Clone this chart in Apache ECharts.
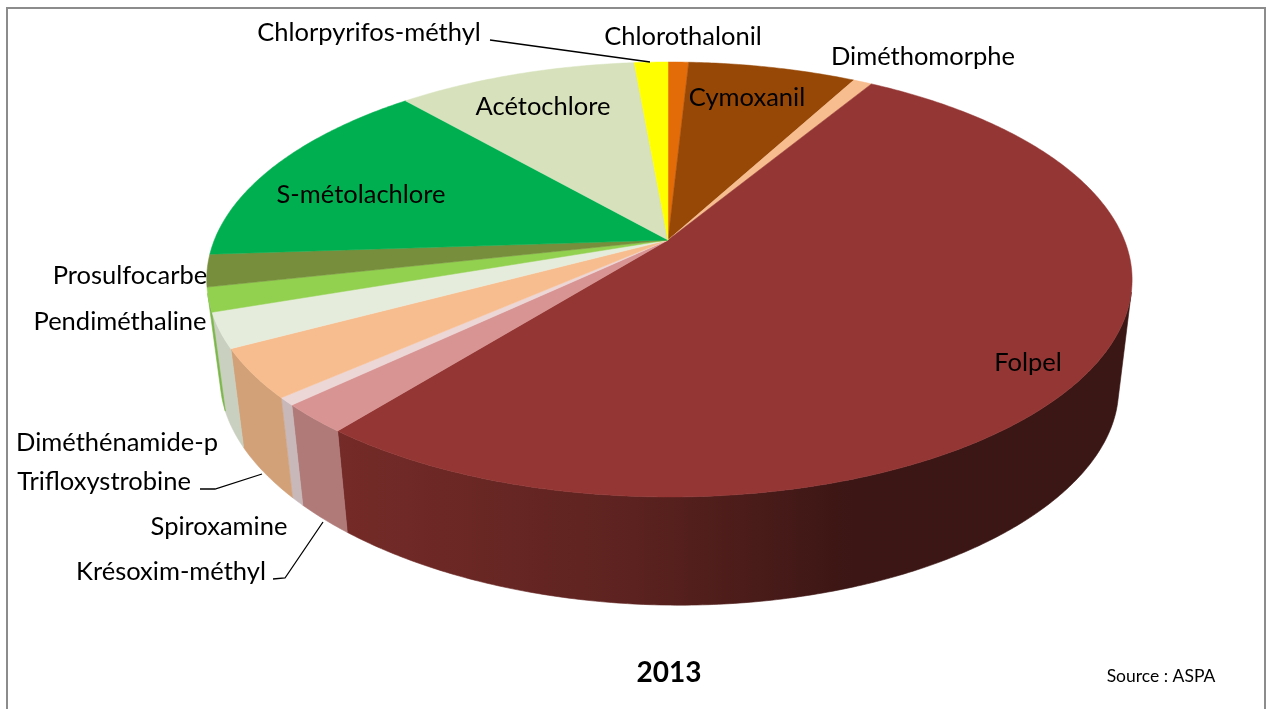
<!DOCTYPE html>
<html><head><meta charset="utf-8">
<style>html,body{margin:0;padding:0;background:#fff}#c{width:1266px;height:709px}</style>
<script src="https://cdn.jsdelivr.net/npm/echarts@6/dist/echarts.min.js"></script>
</head><body><div id="c"></div>
<script>
// Data: share of each substance (%), clockwise from 12 o'clock
const names = ['Chlorothalonil','Cymoxanil','Diméthomorphe','Folpel','Krésoxim-méthyl','Spiroxamine','Trifloxystrobine','Diméthénamide-p','Pendiméthaline','Prosulfocarbe','S-métolachlore','Acétochlore','Chlorpyrifos-méthyl'];
const values = [0.86,7.0,0.78,52.18,2.18,0.58,3.66,2.6,1.8,2.4,14.67,10.03,1.4];
const year = '2013';
const source = 'Source : ASPA';

// Styles
const topColors = ['#e36c09','#974806','#f8bd8e','#943634','#d89492','#ecd7d6','#f8bd8e','#e6ecdc','#92d050','#778f3c','#00b050','#d7e2bc','#ffff00'];
const wallColors = ['#a84f06','#6e3404','#b98a68',null,'#b07a78','#c8b8ba','#d2a178','#c9d0c0','#7ab648','#586b2c','#008040','#a0aa8c','#c0c000'];
const folpelWall = [{offset:0,color:'#752b28'},{offset:0.35,color:'#5e2320'},{offset:0.65,color:'#3b1614'},{offset:1,color:'#3a1614'}];

// Projection of the disc
const apex = {x:668, y:240}, A = 455, B = 210.3, K = 0.1816, KX = 0.003;
const vanish = {x:668, y:4200}, T = 0.0292;
const total = values.reduce((s,v)=>s+v,0);
const cum = [0]; values.forEach(v=>cum.push(cum[cum.length-1]+v));
const angleOf = p => p/total*2*Math.PI;
function rim(t){const u=Math.sin(t), v=-Math.cos(t), w=1-K*v-KX*u; return [apex.x+A*u/w, apex.y+B*v/w];}
function low(p){const s=(p[0]-apex.x)/463;
  return [p[0]+T*(vanish.x-p[0]), p[1]+T*(vanish.y-p[1])+5*s-10*s*s];}
function arc(i){const a=angleOf(cum[i]), b=angleOf(cum[i+1]), n=Math.max(2,Math.ceil((b-a)/0.01)), r=[];
  for(let j=0;j<=n;j++) r.push(rim(a+(b-a)*j/n)); return r;}
function area(q){let s=0; q.forEach((p,i)=>{const r=q[(i+1)%q.length]; s+=p[0]*r[1]-r[0]*p[1];}); return s;}

// Only the part of the outer wall that faces the viewer is drawn, as one polygon per slice
const wallItem = (params)=>{const i=params.dataIndex, top=arc(i), front=[];
  const fill = wallColors[i] || new echarts.graphic.LinearGradient(337,0,1132,0,folpelWall,true);
  for(let j=0;j<top.length-1;j++){
    const q=[top[j],top[j+1],low(top[j+1]),low(top[j])];
    if(area(q)<0){ if(!front.length) front.push(top[j]); front.push(top[j+1]); }
  }
  if(!front.length) return {type:'group',children:[]};
  const pts=front.concat(front.map(low).reverse());
  return {type:'polygon',shape:{points:pts},style:{fill:fill,stroke:fill,lineWidth:0.6}};};
const topItem = (params)=>{const i=params.dataIndex, pts=[[apex.x,apex.y]].concat(arc(i));
  return {type:'polygon',shape:{points:pts},style:{fill:topColors[i],stroke:topColors[i],lineWidth:0.5}};};
const seriesData = names.map((n,i)=>({name:n,value:values[i]}));

// Label anchors (centre of each text)
const F = 'Lato, "Open Sans", sans-serif';
const labelAt = {'Chlorothalonil':[683,37],'Cymoxanil':[747,98],'Diméthomorphe':[923,57],'Folpel':[1028,363],'Krésoxim-méthyl':[171,572],'Spiroxamine':[219,527],'Trifloxystrobine':[104,482],'Diméthénamide-p':[117,443],'Pendiméthaline':[120,322],'Prosulfocarbe':[130,276],'S-métolachlore':[361,195],'Acétochlore':[543,107],'Chlorpyrifos-méthyl':[369,33]};
const labelSize = 25.5;
const text = (s,x,y,size,weight)=>({type:'text',z:10,x:x,y:y,style:{text:s,fill:'#000',font:(weight||'normal')+' '+size+'px '+F,align:'center',verticalAlign:'middle'}});
const line = (pts,color,w)=>({type:'polyline',z:9,shape:{points:pts},style:{stroke:color,lineWidth:w,fill:null}});

const chart = echarts.init(document.getElementById('c'),null,{renderer:'canvas'});
chart.setOption({
  animation:false, backgroundColor:'#fff',
  series:[
    {type:'custom',coordinateSystem:'none',renderItem:wallItem,data:seriesData,z:2,silent:true},
    {type:'custom',coordinateSystem:'none',renderItem:topItem,data:seriesData,z:3,silent:true}
  ],
  graphic:[
    line([[7,709],[7,8],[1265,8],[1265,709]],'#8c8c8c',2),
    line([[490,40],[650,62]],'#000',1.3),
    line([[200,489],[215,489],[262,474]],'#000',1.3),
    line([[273,579],[285,578],[323,522]],'#000',1.3),
    ...names.map(n=>text(n,labelAt[n][0],labelAt[n][1],labelSize)),
    text(year,669,673,28,'bold'),
    text(source,1161,676,17.5)
  ]
});
</script></body></html>
